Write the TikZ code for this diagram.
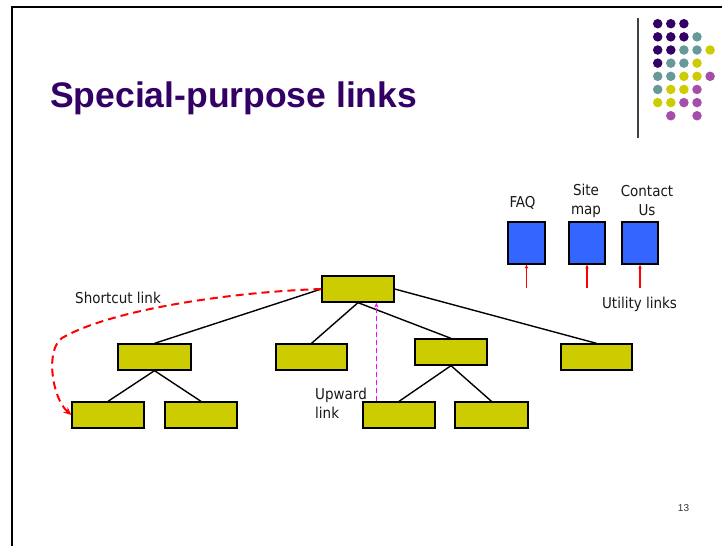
\documentclass[tikz,border=0pt]{standalone}
\usepackage{fontspec}
\setmainfont{DejaVu Sans Condensed}
\newfontfamily\titlefont{Liberation Sans}
\usetikzlibrary{arrows.meta}
\definecolor{ttl}{HTML}{330066}
\definecolor{olive}{HTML}{CCCC00}
\definecolor{bluebx}{HTML}{3366FF}
\definecolor{dP}{HTML}{330066}
\definecolor{dT}{HTML}{669999}
\definecolor{dY}{HTML}{CCCC00}
\definecolor{dM}{HTML}{A64DAA}
\definecolor{pmag}{HTML}{FF00FF}
\tikzset{
  ybox/.style={draw=black, line width=1.3pt, fill=olive, minimum width=72pt, minimum height=26pt, inner sep=0pt},
  bbox/.style={draw=black, line width=1.3pt, fill=bluebx, minimum width=36pt, minimum height=42pt, inner sep=0pt},
  tree/.style={draw=black, line width=1.4pt},
  lbl/.style={font=\fontsize{15}{19}\selectfont, text=black!90, inner sep=0pt, align=center},
  shortcut/.style={draw=red, line width=2pt, dash pattern=on 8pt off 5pt, -{Stealth[length=8pt,width=7pt]}},
  upward/.style={draw=pmag, line width=1.2pt, dash pattern=on 5pt off 3pt, -{Stealth[length=5pt,width=4pt]}},
  utilarr/.style={draw=red, line width=1.2pt, -{Stealth[length=4pt,width=3.5pt]}},
  dot/.style={circle, inner sep=0pt, minimum size=9.5pt}
}
\begin{document}
\begin{tikzpicture}[x=1pt,y=-1pt]
\useasboundingbox (0,0) rectangle (722,546);
\fill[white] (0,0) rectangle (722,546);
% frame
\draw[line width=2.2pt, black] (12,546) -- (12,7) -- (722,7);
% logo
\draw[line width=2pt, black!75] (637.7,18) -- (637.7,138);
\foreach \r/\row in {0/{P,P,P,N,N},1/{P,P,P,T,N},2/{P,P,T,T,Y},3/{P,T,T,Y,N},4/{T,T,Y,Y,M},5/{T,Y,Y,M,N},6/{Y,Y,M,M,N},7/{N,M,N,M,N}}{
  \foreach \c [count=\i from 0] in \row {
    \if N\c\else
      \node[dot, fill=d\c] (dot\r\i) at ({657.7+13.1*\i},{23.7+13.15*\r}) {};
    \fi
  }
}
% title
\node[anchor=base west, inner sep=0pt, text=ttl, font=\titlefont\bfseries\fontsize{35.5}{40}\selectfont] (title) at (50,107) {Special-purpose links};
% tree
\node[ybox] (root) at (358,289) {};
\node[ybox, minimum width=73pt] (A) at (154.5,357) {};
\node[ybox, minimum width=71pt] (B) at (311.5,357) {};
\node[ybox] (C) at (451,352) {};
\node[ybox, minimum width=71pt] (D) at (596.5,357) {};
\node[ybox] (A1) at (108,415) {};
\node[ybox] (A2) at (201,415) {};
\node[ybox] (C1) at (399,415) {};
\node[ybox, minimum width=73pt] (C2) at (491.5,415) {};
\draw[tree] (root.west) -- (A.north);
\draw[tree] (root.south) -- (B.north);
\draw[tree] (root.south) -- (C.north);
\draw[tree] (root.east) -- (D.north);
\draw[tree] (A.south) -- (A1.north);
\draw[tree] (A.south) -- (A2.north);
\draw[tree] (C.south) -- (C1.north);
\draw[tree] (C.south) -- (C2.north);
% shortcut
\draw[shortcut] (root.west) .. controls (230,292) and (110,310) .. (62,338) .. controls (45,350) and (52,398) .. (A1.west);
\node[lbl, anchor=base west] (sl) at (75,303) {Shortcut link};
% upward
\draw[upward] ([xshift=14pt]C1.north west) -- ([xshift=55pt]root.south west);
\node[lbl, anchor=base west, align=left] (ul) at (315,418) {Upward\\link};
% utility
\node[bbox, minimum width=37pt] (faq) at (526.5,243) {};
\node[bbox] (smap) at (587,243) {};
\node[bbox] (cont) at (640,243) {};
\coordinate (u1) at (526.5,288);
\coordinate (u2) at (587,288);
\coordinate (u3) at (640,288);
\draw[utilarr] (u1) -- (faq.south);
\draw[utilarr] (u2) -- (smap.south);
\draw[utilarr] (u3) -- (cont.south);
\node[lbl, anchor=base] (tfaq) at (522.5,207.5) {FAQ};
\node[lbl, anchor=base] (tsmap) at (586,214) {Site\\map};
\node[lbl, anchor=base] (tcont) at (647,215) {Contact\\Us};
\node[lbl, anchor=base] (tutil) at (639.5,308) {Utility links};
% page number
\node[inner sep=0pt, text=black!80, font=\titlefont\fontsize{10}{12}\selectfont] (pg) at (683.5,508.5) {13};
\end{tikzpicture}
\end{document}
